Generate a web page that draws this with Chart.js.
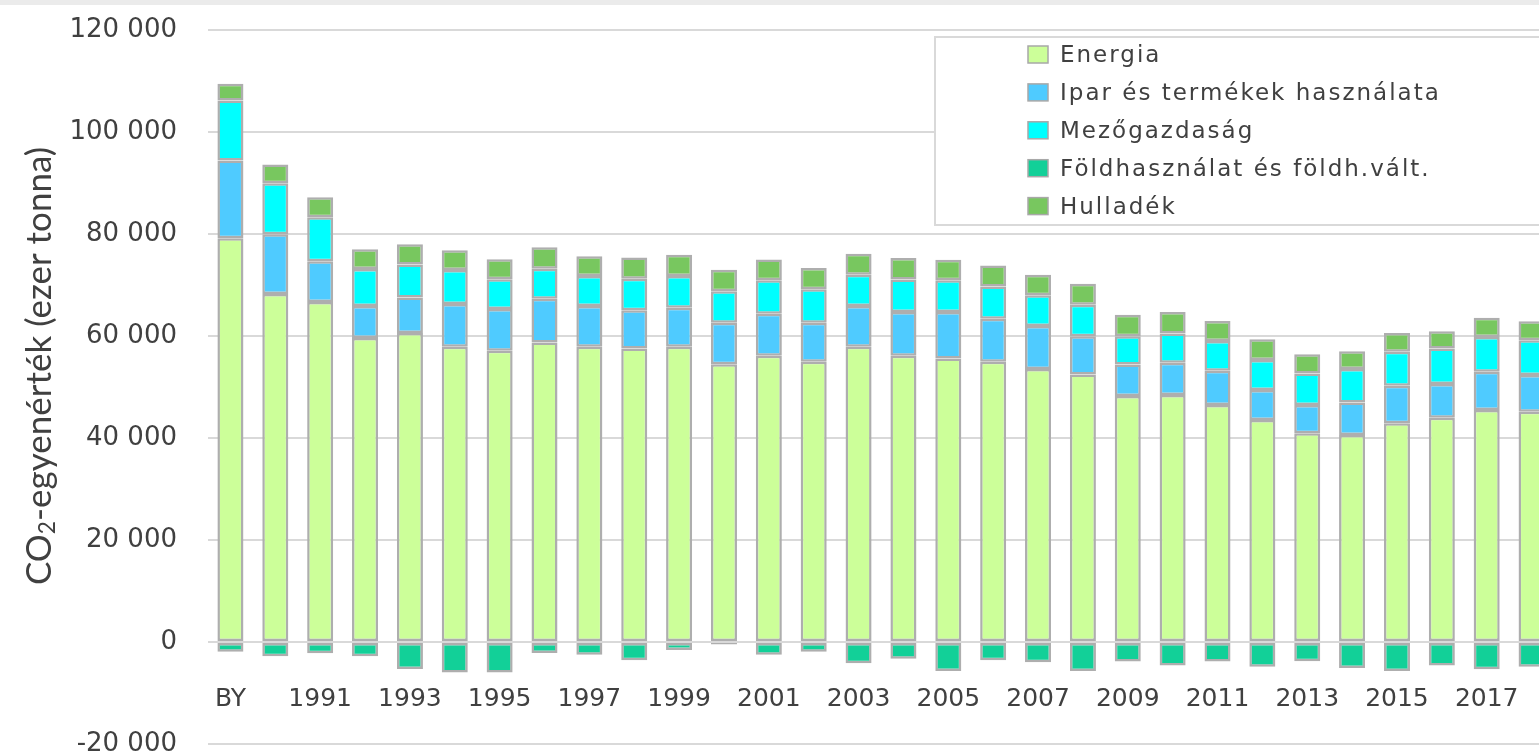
<!DOCTYPE html>
<html>
<head>
<meta charset="utf-8">
<script src="https://cdn.jsdelivr.net/npm/chart.js@4.4.1/dist/chart.umd.min.js"></script>
<style>
  html, body { margin: 0; padding: 0; background: #fff; overflow: hidden; }
  #wrap { position: absolute; left: 0; top: 0; width: 1560px; height: 753px; }
  #band { position: absolute; left: 0; top: 0; width: 100%; height: 5px; background: #ebebeb; }
</style>
</head>
<body>
<div id="wrap"><canvas id="chart" width="1560" height="753"></canvas></div>
<div id="band"></div>
<script>
// years (BY = base year)
const years = ['BY', '1990', '1991', '1992', '1993', '1994', '1995', '1996', '1997', '1998',
  '1999', '2000', '2001', '2002', '2003', '2004', '2005', '2006', '2007', '2008',
  '2009', '2010', '2011', '2012', '2013', '2014', '2015', '2016', '2017', '2018'];

// ezer tonna CO2-egyenérték
const energia = [79180, 68230, 66670, 59630, 60600, 57870, 57090, 58710, 57870, 57540,
  57870, 54480, 56110, 54940, 57870, 56110, 55580, 54940, 53510, 52450,
  48230, 48430, 46470, 43540, 40920, 40600, 42870, 43990, 45490, 45160];
const ipar = [15250, 11730, 8010, 6250, 6950, 8400, 8200, 8600, 8010, 7500,
  7690, 8140, 8270, 7680, 8010, 8600, 9130, 8460, 8460, 7510,
  6180, 6310, 6710, 5860, 5550, 6380, 7370, 6590, 7490, 7170];
const mezogazdasag = [11730, 9970, 8600, 7240, 6450, 6650, 5850, 5870, 5870, 6190,
  6190, 6140, 6530, 6530, 6120, 6390, 6200, 6330, 6010, 6180,
  5550, 5730, 5860, 5870, 6180, 6530, 6650, 6960, 6840, 6850];
const foldhasznalat = [-1900, -2800, -2200, -2800, -5300, -6000, -6000, -2150, -2500, -3600,
  -1550, -500, -2500, -1900, -4150, -3300, -5700, -3600, -3950, -5700,
  -3800, -4600, -3800, -4850, -3750, -5100, -5700, -4600, -5350, -4850];
const hulladek = [3320, 3710, 3910, 3910, 4000, 3900, 3900, 4240, 3910, 4170,
  4170, 4220, 4100, 4160, 4110, 4170, 4030, 4110, 4020, 4100,
  4230, 4240, 3910, 4100, 3790, 3520, 3720, 3400, 3780, 3710];

const FONT = 'DejaVu Sans';
const TXT = '#404040';
const EDGE = '#aeaeae';

function fmt(v) {
  return String(v).replace(/\B(?=(\d{3})+(?!\d))/g, ' ');
}

function ds(label, data, color) {
  return {
    label: label,
    data: data,
    backgroundColor: color,
    borderColor: EDGE,
    borderWidth: 2.5,
    borderSkipped: false,
    barPercentage: 0.58,
    categoryPercentage: 1
  };
}

// legend box drawn inside the plot, top right
const boxLegend = {
  id: 'boxLegend',
  afterDraw(chart) {
    const ctx = chart.ctx;
    ctx.save();
    ctx.fillStyle = '#fff';
    ctx.fillRect(935, 37, 640, 188);
    ctx.strokeStyle = '#d9d9d9';
    ctx.lineWidth = 2;
    ctx.strokeRect(935, 37, 640, 188);
    ctx.font = '23px "' + FONT + '"';
    ctx.textBaseline = 'middle';
    ctx.textAlign = 'left';
    chart.data.datasets.forEach((d, i) => {
      const cy = 55 + i * 37.9;
      ctx.fillStyle = d.backgroundColor;
      ctx.fillRect(1028, cy - 9, 20, 17);
      ctx.strokeStyle = '#a8a8a8';
      ctx.lineWidth = 1.5;
      ctx.strokeRect(1028, cy - 9, 20, 17);
      ctx.fillStyle = TXT;
      ctx.letterSpacing = '2px';
      ctx.fillText(d.label, 1060, cy + 1);
      ctx.letterSpacing = '0px';
    });
    ctx.restore();
  }
};

// rotated y title with subscript 2
const yTitle = {
  id: 'yTitle',
  afterDraw(chart) {
    const ctx = chart.ctx;
    const size = 35;
    const parts = [['CO', size, 0], ['2', size * 0.65, 8], ['-egyenérték (ezer tonna)', size, 0]];
    ctx.save();
    ctx.translate(40, 366);
    ctx.rotate(-Math.PI / 2);
    ctx.fillStyle = TXT;
    ctx.textBaseline = 'middle';
    ctx.textAlign = 'left';
    let total = 0;
    parts.forEach(p => { ctx.font = p[1] + 'px Lato'; total += ctx.measureText(p[0]).width; });
    let x = -total / 2;
    parts.forEach(p => {
      ctx.font = p[1] + 'px Lato';
      ctx.fillText(p[0], x, p[2]);
      x += ctx.measureText(p[0]).width;
    });
    ctx.restore();
  }
};

const ctx = document.getElementById('chart').getContext('2d');
new Chart(ctx, {
  type: 'bar',
  data: {
    labels: years,
    datasets: [
      ds('Energia', energia, '#ccff99'),
      ds('Ipar és termékek használata', ipar, '#4fcbff'),
      ds('Mezőgazdaság', mezogazdasag, '#00ffff'),
      ds('Földhasználat és földh.vált.', foldhasznalat, '#12d098'),
      ds('Hulladék', hulladek, '#78c75f')
    ]
  },
  options: {
    responsive: false,
    animation: false,
    devicePixelRatio: 1,
    layout: { padding: { left: 0, right: 6, top: 30, bottom: 9 } },
    plugins: {
      legend: { display: false },
      tooltip: { enabled: false }
    },
    scales: {
      x: {
        stacked: true,
        position: { y: 0 },
        grid: { display: false },
        border: { display: false },
        ticks: {
          autoSkip: false,
          maxRotation: 0,
          padding: 34,
          color: TXT,
          font: { family: FONT, size: 25 },
          callback: (v, i) => (i % 2 === 0 ? years[i] : '')
        },
        afterFit: s => { s.paddingLeft = 0; s.paddingRight = 0; }
      },
      y: {
        stacked: true,
        min: -20000,
        max: 120000,
        grid: { color: '#d9d9d9', lineWidth: 2, drawTicks: false },
        border: { display: false },
        ticks: {
          stepSize: 20000,
          padding: 31,
          color: TXT,
          font: { family: FONT, size: 26 },
          callback: v => fmt(v)
        },
        afterFit: s => { s.width = 208; s.paddingTop = 0; s.paddingBottom = 0; }
      }
    }
  },
  plugins: [boxLegend, yTitle]
});
</script>
</body>
</html>
